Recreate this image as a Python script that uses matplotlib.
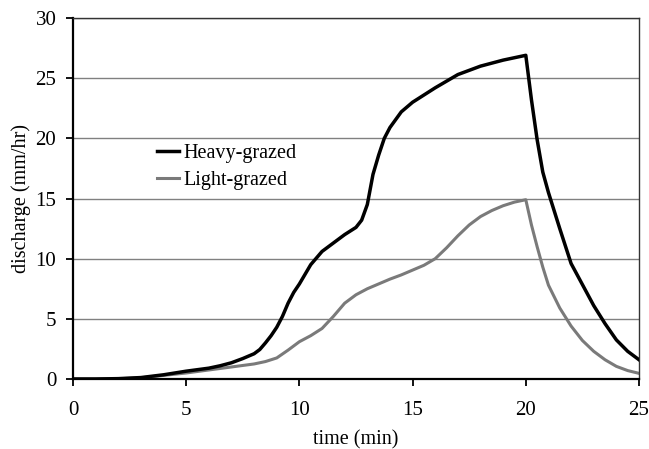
import matplotlib
matplotlib.use("Agg")
import matplotlib.pyplot as plt

heavy_t = [0, 1, 2, 3, 4, 5, 6, 6.5, 7, 7.5, 8, 8.25, 8.5, 8.75, 9, 9.25, 9.5, 9.75, 10, 10.5, 11, 11.5, 12, 12.5,
           12.75, 13, 13.25, 13.5, 13.75, 14, 14.5, 15, 16, 17, 18, 19, 20,
           20.25, 20.5, 20.75, 21, 21.5, 22, 22.5, 23, 23.5, 24, 24.5, 25]
heavy_q = [0, 0, 0.03, 0.12, 0.35, 0.65, 0.9, 1.1, 1.35, 1.7, 2.1, 2.45, 3.0, 3.6, 4.3, 5.2, 6.3, 7.2, 7.9, 9.5, 10.6, 11.3, 12.0, 12.6,
           13.2, 14.5, 17.0, 18.6, 20.0, 20.9, 22.2, 23.0, 24.2, 25.3, 26.0, 26.5, 26.9,
           23.2, 19.9, 17.2, 15.5, 12.5, 9.6, 7.85, 6.1, 4.6, 3.25, 2.3, 1.6]

light_t = [0, 1, 2, 3, 4, 5, 6, 7, 8, 8.5, 9, 9.5, 10, 10.5, 11, 11.5, 12, 12.5, 13, 13.5, 14, 14.5, 15, 15.5,
           16, 16.5, 17, 17.5, 18, 18.5, 19, 19.5, 20,
           20.25, 20.5, 20.75, 21, 21.5, 22, 22.5, 23, 23.5, 24, 24.5, 25]
light_q = [0, 0, 0.02, 0.1, 0.3, 0.5, 0.75, 1.0, 1.25, 1.45, 1.75, 2.4, 3.1, 3.6, 4.2, 5.2, 6.3, 7.0, 7.5, 7.9, 8.3, 8.65, 9.05, 9.45,
           10.0, 10.9, 11.9, 12.8, 13.5, 14.0, 14.4, 14.7, 14.9,
           12.8, 11.0, 9.3, 7.8, 5.9, 4.4, 3.2, 2.3, 1.6, 1.05, 0.7, 0.47]

series_labels = ["Heavy-grazed", "Light-grazed"]
x_ticks = [0, 5, 10, 15, 20, 25]
y_ticks = [0, 5, 10, 15, 20, 25, 30]

plt.rcParams['font.family'] = ['Liberation Serif', 'DejaVu Serif']

W, H = 649, 449
fig = plt.figure(figsize=(W/100, H/100), dpi=100)
ax = fig.add_axes([73/W, 1 - 379/H, (639-73)/W, (379-18)/H])

for y in y_ticks[1:]:
    ax.axhline(y, color='#808080', lw=1.0, zorder=1)

ax.plot(heavy_t, heavy_q, color='black', lw=2.5, label=series_labels[0], zorder=3,
        solid_joinstyle='round')
ax.plot(light_t, light_q, color='#7a7a7a', lw=2.2, label=series_labels[1], zorder=2,
        solid_joinstyle='round')

ax.set_xlim(0, 25)
ax.set_ylim(0, 30)
ax.set_xticks(x_ticks)
ax.set_yticks(y_ticks)
ax.tick_params(axis='both', direction='out', length=5, width=1.3, labelsize=15, colors='black')
ax.tick_params(axis='x', pad=11)
ax.tick_params(axis='y', pad=7)

for s in ['left', 'bottom']:
    ax.spines[s].set_linewidth(1.6)
    ax.spines[s].set_color('black')
for s in ['top', 'right']:
    ax.spines[s].set_linewidth(1.0)
    ax.spines[s].set_color('#333333')

ax.set_xlabel('time (min)', fontsize=14.5, labelpad=7)
ax.set_ylabel('discharge (mm/hr)', fontsize=14.5, labelpad=3)

leg = ax.legend(loc='upper left', bbox_to_anchor=(157/W, 1 - 144/H), bbox_transform=fig.transFigure,
                frameon=False, fontsize=14.5, borderpad=0,
                handlelength=1.1, handletextpad=0.2, labelspacing=0.38, borderaxespad=0)

fig.savefig('out.png', dpi=100)
